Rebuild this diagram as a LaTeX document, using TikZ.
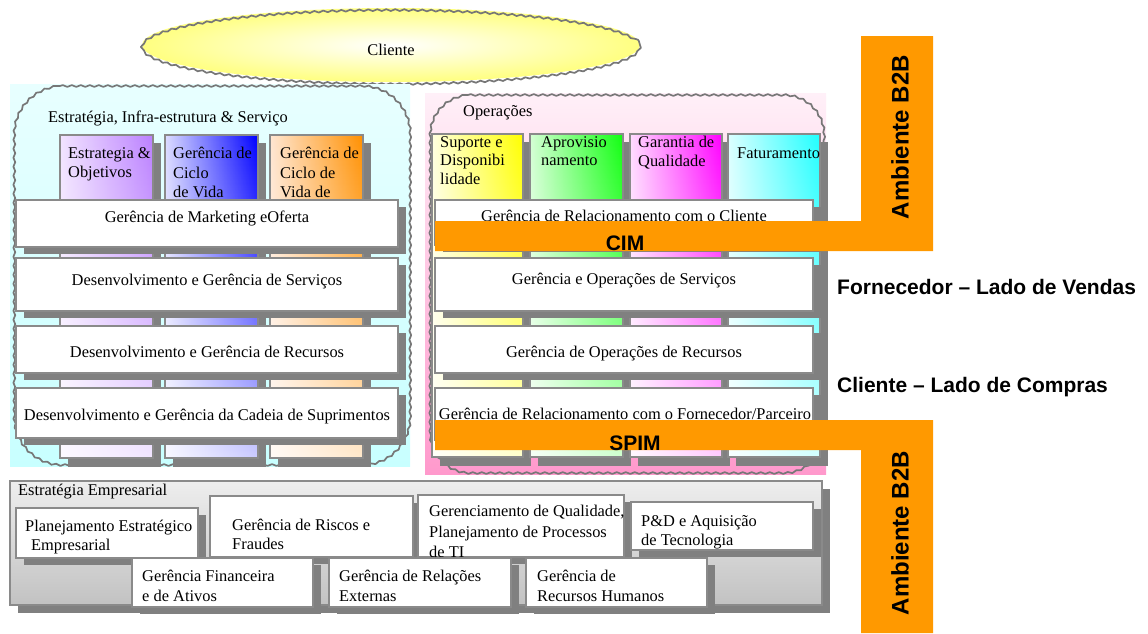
\documentclass[tikz,border=0pt]{standalone}
\usepackage{fontspec}
\setmainfont{Liberation Serif}
\newfontfamily\labelsans{Liberation Sans}
\usetikzlibrary{shapes.geometric,decorations.pathmorphing,fadings}

\definecolor{dropgray}{HTML}{808080}
\definecolor{rimgray}{HTML}{8A8A8A}
\definecolor{wobblegray}{HTML}{777777}
\definecolor{b2borange}{HTML}{FF9900}
\definecolor{sunyellow}{HTML}{FFFF80}
\definecolor{cyantop}{HTML}{E8FFFF}
\definecolor{cyanbot}{HTML}{C8FFFF}
\definecolor{pinktop}{HTML}{FFF0F8}
\definecolor{pinkbot}{HTML}{FF99CC}
\definecolor{greytop}{HTML}{EEEEEE}
\definecolor{greybot}{HTML}{C2C2C2}
\definecolor{purpleL}{HTML}{F2E4FF}
\definecolor{purpleR}{HTML}{BB80FF}
\definecolor{blueL}{HTML}{DCDCFF}
\definecolor{blueR}{HTML}{0000FF}
\definecolor{orangeL}{HTML}{FFE6D2}
\definecolor{orangeR}{HTML}{FF9000}
\definecolor{yellowL}{HTML}{FFFFE0}
\definecolor{yellowR}{HTML}{FFFF00}
\definecolor{greenL}{HTML}{D4FFD4}
\definecolor{greenR}{HTML}{10FF10}
\definecolor{magentaL}{HTML}{FFDCFF}
\definecolor{magentaR}{HTML}{FF00FF}
\definecolor{aquaL}{HTML}{DCFFFF}
\definecolor{aquaR}{HTML}{20FFFF}

% tinted column: name, x1, y1, x2, y2, light colour, strong colour
\newcommand{\tintcolumn}[7]{%
  \fill[dropgray] (#2+8,#3+8) rectangle (#4+8,#5+9);
  \node[tintbox, left color=#6, right color=#7,
        minimum width=#4-#2, minimum height=#5-#3] (#1) at (#2,#3) {};
  \fill[white, fill opacity=0.8, path fading=north] (#2,#3) rectangle (#4,#5);
  \draw[rimgray, line width=1.2pt] (#1.north west) rectangle (#1.south east);
}
% white box with drop shadow: name, x1, y1, x2, y2
\newcommand{\shadowedbox}[5]{%
  \fill[dropgray] (#2+8,#3+7) rectangle (#4+8,#5+7);
  \node[framebox, minimum width=#4-#2, minimum height=#5-#3] (#1) at (#2,#3) {};
}
% wobbly rounded frame: x1, y1, x2, y2, corner radius
\newcommand{\wavyframe}[5]{%
  \draw[wavy] (#1+#5,#2) -- (#3-#5,#2)
    .. controls (#3-0.448*#5,#2) and (#3,#2+0.448*#5) .. (#3,#2+#5)
    -- (#3,#4-#5)
    .. controls (#3,#4-0.448*#5) and (#3-0.448*#5,#4) .. (#3-#5,#4)
    -- (#1+#5,#4)
    .. controls (#1+0.448*#5,#4) and (#1,#4-0.448*#5) .. (#1,#4-#5)
    -- (#1,#2+#5)
    .. controls (#1,#2+0.448*#5) and (#1+0.448*#5,#2) .. (#1+#5,#2) -- cycle;
}

\begin{document}
\begin{tikzpicture}[x=1pt,y=-1pt,
  serif/.style={font=\fontsize{16.4}{19.5}\selectfont, inner sep=0pt, align=left},
  heavy/.style={font=\labelsans\bfseries\fontsize{21}{25}\selectfont, inner sep=0pt},
  wavy/.style={draw=wobblegray, line width=1.7pt, line join=round, decorate,
               decoration={snake, segment length=9pt, amplitude=0.9pt}},
  framebox/.style={draw=rimgray, line width=1.3pt, fill=white, inner sep=0pt,
                   outer sep=0pt, anchor=north west},
  tintbox/.style={inner sep=0pt, outer sep=0pt, anchor=north west},
]
\useasboundingbox (0,0) rectangle (1148,633);
\fill[white] (0,0) rectangle (1148,633);

% ---------------- Cliente ----------------
\node[ellipse, minimum width=498pt, minimum height=74pt, inner sep=0pt,
      inner color=white, outer color=sunyellow] (cliente) at (391,45) {};
\draw[wavy] (cliente.center) ellipse [x radius=249, y radius=37];
\node[serif, anchor=base] (clienteT) at (391,55) {Cliente};

% ---------------- Estrategia, Infra-estrutura & Servico ----------------
\shade[top color=cyantop, bottom color=cyanbot] (10,84) rectangle (410,466);
\wavyframe{12}{86}{408}{465}{48}
\node[serif, anchor=base west] (infraT) at (48,122) {Estratégia, Infra-estrutura \& Serviço};

\tintcolumn{estr}{60}{135}{153}{458}{purpleL}{purpleR}
\tintcolumn{cicloA}{165}{135}{258}{458}{blueL}{blueR}
\tintcolumn{cicloB}{270}{135}{363}{458}{orangeL}{orangeR}
\node[serif, anchor=north west] (estrT) at (68,147) {Estrategia \&\\Objetivos};
\node[serif, anchor=north west] (cicloAT) at (173,147) {Gerência de\\Ciclo\\de Vida};
\node[serif, anchor=north west] (cicloBT) at (280,147) {Gerência de\\Ciclo de\\Vida de};

\shadowedbox{mkt}{16}{200}{398}{247}
\node[serif, anchor=base] (mktT) at (207,222) {Gerência de Marketing eOferta};
\shadowedbox{dserv}{16}{258}{398}{311}
\node[serif, anchor=base] (dservT) at (207,285) {Desenvolvimento e Gerência de Serviços};
\shadowedbox{drec}{16}{326}{398}{373}
\node[serif, anchor=base] (drecT) at (207,357) {Desenvolvimento e Gerência de Recursos};
\shadowedbox{dsup}{16}{388}{398}{438}
\node[serif, anchor=base] (dsupT) at (207,420) {Desenvolvimento e Gerência da Cadeia de Suprimentos};

% ---------------- Operacoes ----------------
\shade[top color=pinktop, bottom color=pinkbot] (425,93) rectangle (826,474);
\wavyframe{428}{95}{822}{473}{40}
\node[serif, anchor=base west] (opT) at (463,116) {Operações};

\tintcolumn{suporte}{432}{134}{523}{457}{yellowL}{yellowR}
\tintcolumn{aprov}{530}{134}{623}{457}{greenL}{greenR}
\tintcolumn{garantia}{630}{134}{722}{457}{magentaL}{magentaR}
\tintcolumn{fatura}{728}{134}{820}{457}{aquaL}{aquaR}
\node[serif, anchor=north west, font=\fontsize{16.4}{18.7}\selectfont] (suporteT) at (440,136) {Suporte e\\Disponibi\\lidade};
\node[serif, anchor=north west, font=\fontsize{16.4}{18.7}\selectfont] (aprovT) at (541,136) {Aprovisio\\namento};
\node[serif, anchor=north west, font=\fontsize{16.4}{18.7}\selectfont] (garantiaT) at (638,136) {Garantia de\\Qualidade};
\node[serif, anchor=base west] (faturaT) at (737,158) {Faturamento};

\shadowedbox{relcli}{435}{200}{813}{245}
\node[serif, anchor=base] (relcliT) at (624,221) {Gerência de Relacionamento com o Cliente};
\shadowedbox{opserv}{435}{258}{813}{311}
\node[serif, anchor=base] (opservT) at (624,284) {Gerência e Operações de Serviços};
\shadowedbox{oprec}{435}{326}{813}{373}
\node[serif, anchor=base] (oprecT) at (624,357) {Gerência de Operações de Recursos};
\shadowedbox{relforn}{435}{388}{813}{440}
\node[serif, anchor=base] (relfornT) at (625,419) {Gerência de Relacionamento com o Fornecedor/Parceiro};

% ---------------- B2B bands ----------------
\fill[b2borange] (861,36) -- (933,36) -- (933,251) -- (435,251) -- (435,221) -- (861,221) -- cycle;
\fill[b2borange] (435,420) -- (933,420) -- (933,633) -- (861,633) -- (861,450) -- (435,450) -- cycle;
\node[heavy, anchor=base] (cim) at (625,250) {CIM};
\node[heavy, anchor=base] (spim) at (635,450) {SPIM};
\node[heavy, font=\labelsans\bfseries\fontsize{24}{28}\selectfont, rotate=90] (b2bTop) at (900,137) {Ambiente B2B};
\node[heavy, font=\labelsans\bfseries\fontsize{24}{28}\selectfont, rotate=90] (b2bBot) at (900,533) {Ambiente B2B};
\node[heavy, anchor=base west] (vendas) at (837,294) {Fornecedor – Lado de Vendas};
\node[heavy, anchor=base west] (compras) at (837,392) {Cliente – Lado de Compras};

% ---------------- Estrategia Empresarial ----------------
\fill[dropgray] (18,489) rectangle (830,613);
\node[framebox, top color=greytop, bottom color=greybot,
      minimum width=812, minimum height=124] (empresa) at (10,481) {};
\node[serif, anchor=base west] (empresaT) at (18,495) {Estratégia Empresarial};

\shadowedbox{plan}{16}{508}{198}{558}
\node[serif, anchor=north west, font=\fontsize{16.4}{19}\selectfont] (planT) at (25,520) {Planejamento Estratégico\\\hspace*{6pt}Empresarial};
\shadowedbox{riscos}{210}{496}{413}{557}
\node[serif, anchor=north west, font=\fontsize{16.4}{19}\selectfont] (riscosT) at (232,519) {Gerência de Riscos e\\Fraudes};
\shadowedbox{qual}{418}{495}{624}{557}
\node[serif, anchor=north west, font=\fontsize{16.4}{20.5}\selectfont] (qualT) at (429,505) {Gerenciamento de Qualidade,\\Planejamento de Processos\\de TI};
\shadowedbox{ped}{631}{502}{813}{550}
\node[serif, anchor=north west, font=\fontsize{16.4}{19}\selectfont] (pedT) at (641,515) {P\&D e Aquisição\\de Tecnologia};
\shadowedbox{fin}{132}{558}{313}{607}
\node[serif, anchor=north west, font=\fontsize{16.4}{20}\selectfont] (finT) at (142,570) {Gerência Financeira\\e de Ativos};
\shadowedbox{relext}{329}{558}{511}{607}
\node[serif, anchor=north west, font=\fontsize{16.4}{20}\selectfont] (relextT) at (339,570) {Gerência de Relações\\Externas};
\shadowedbox{rh}{526}{558}{707}{607}
\node[serif, anchor=north west, font=\fontsize{16.4}{20}\selectfont] (rhT) at (537,570) {Gerência de\\Recursos Humanos};
\end{tikzpicture}
\end{document}
